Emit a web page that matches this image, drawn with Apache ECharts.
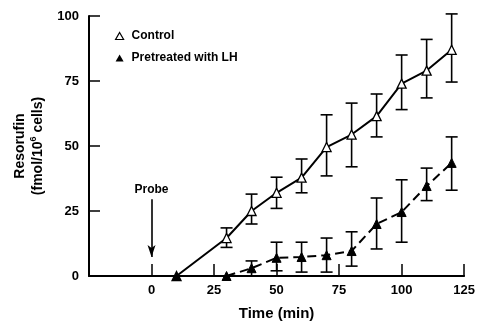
<!DOCTYPE html>
<html><head><meta charset="utf-8">
<script src="https://cdn.jsdelivr.net/npm/echarts@6/dist/echarts.min.js"></script>
<style>html,body{margin:0;padding:0;background:#fff}#c{width:478px;height:326px}</style>
</head><body><div id="c"></div>
<script>
const xTicks = [-25, 0, 25, 50, 75, 100, 125];
const yTicks = [0, 25, 50, 75, 100];
const controlX = [10, 30, 40, 50, 60, 70, 80, 90, 100, 110, 120];
const controlY = [0, 14.6, 25, 32, 37.8, 49.6, 54.4, 61.5, 74, 79, 87];
const controlLow = [null, 11, 20, 26, 32, 38.5, 42, 53.5, 64, 68.5, 74.6];
const controlHigh = [null, 18.5, 31.5, 38, 45, 62, 66.5, 70, 85, 91, 100.8];
const lhX = [30, 40, 50, 60, 70, 80, 90, 100, 110, 120];
const lhY = [0, 3, 7, 7.3, 8, 9.6, 20, 24.6, 34.6, 43.5];
const lhLow = [null, 0, 2, 1.5, 1.5, 3.8, 10.4, 13, 29, 33];
const lhHigh = [null, 5.8, 13, 13, 14.6, 17, 30, 37, 41.5, 53.5];
const probe = {x: 0, from: 29.5, to: 7.3, label: 'Probe'};

const FONT = 'Liberation Sans, Arial, sans-serif';
function errData(xs, lo, hi) {
  const out = [];
  xs.forEach((x, i) => { if (lo[i] != null) out.push([x, lo[i], hi[i]]); });
  return out;
}
function errRender(params, api) {
  const x = api.value(0);
  const p1 = api.coord([x, api.value(1)]);
  const p2 = api.coord([x, api.value(2)]);
  const w = 6;
  const st = {stroke: '#000', lineWidth: 1.6};
  return {type: 'group', children: [
    {type: 'line', shape: {x1: p1[0], y1: p1[1], x2: p2[0], y2: p2[1]}, style: st},
    {type: 'line', shape: {x1: p1[0]-w, y1: p1[1], x2: p1[0]+w, y2: p1[1]}, style: st},
    {type: 'line', shape: {x1: p2[0]-w, y1: p2[1], x2: p2[0]+w, y2: p2[1]}, style: st}
  ]};
}
const chart = echarts.init(document.getElementById('c'), null, {renderer: 'canvas'});
chart.setOption({
  animation: false,
  backgroundColor: '#fff',
  grid: {left: 89, right: 12, top: 16, bottom: 50},
  legend: {
    orient: 'vertical', left: 110, top: 25, itemGap: 10, itemWidth: 8, itemHeight: 7,
    textStyle: {fontFamily: FONT, fontSize: 12, color: '#000', fontWeight: 'bold', padding: [0, 0, 0, 3]},
    data: [
      {name: 'Control', icon: 'triangle', itemStyle: {color: '#fff', borderColor: '#000', borderWidth: 1.2}},
      {name: 'Pretreated with LH', icon: 'triangle', itemStyle: {color: '#000', borderColor: '#000'}}
    ]
  },
  xAxis: {
    type: 'value', min: xTicks[0], max: xTicks[xTicks.length-1], interval: 25,
    name: 'Time (min)', nameLocation: 'middle', nameGap: 30,
    nameTextStyle: {fontFamily: FONT, fontSize: 15, color: '#000', fontWeight: 'bold'},
    axisLine: {onZero: false, lineStyle: {color: '#000', width: 2}},
    axisTick: {inside: true, length: 12, lineStyle: {color: '#000', width: 1.5}},
    axisLabel: {fontFamily: FONT, fontSize: 13, color: '#000', fontWeight: 'bold', margin: 8,
      formatter: v => (v < 0 ? '' : String(v))},
    splitLine: {show: false}
  },
  yAxis: {
    type: 'value', min: yTicks[0], max: yTicks[yTicks.length-1], interval: 25,
    name: '{a|Resorufin}\n{a|(fmol/10}{s|6}{a| cells)}', nameLocation: 'middle', nameGap: 40, nameRotate: 90,
    nameTextStyle: {rich: {
      a: {fontFamily: FONT, fontSize: 14, color: '#000', fontWeight: 'bold', lineHeight: 18},
      s: {fontFamily: FONT, fontSize: 9, color: '#000', fontWeight: 'bold', verticalAlign: 'top', lineHeight: 18, padding: [0, 0, 8, 0]}
    }},
    axisLine: {show: true, onZero: false, lineStyle: {color: '#000', width: 2}},
    axisTick: {show: true, inside: true, length: 11, lineStyle: {color: '#000', width: 1.5}},
    axisLabel: {fontFamily: FONT, fontSize: 13, color: '#000', fontWeight: 'bold', margin: 10},
    splitLine: {show: false}
  },
  series: [
    {type: 'custom', name: 'errC', renderItem: errRender, data: errData(controlX, controlLow, controlHigh), z: 2, silent: true},
    {type: 'custom', name: 'errL', renderItem: errRender, data: errData(lhX, lhLow, lhHigh), z: 2, silent: true},
    {
      name: 'Control', type: 'line', z: 3,
      data: controlX.map((x, i) => i === 0 ? {value: [x, controlY[i]], itemStyle: {color: '#000'}} : [x, controlY[i]]),
      symbol: 'triangle', symbolSize: 9,
      itemStyle: {color: '#fff', borderColor: '#000', borderWidth: 1.3},
      lineStyle: {color: '#000', width: 2},
      markLine: {
        silent: true, symbol: ['none', 'arrow'], symbolSize: [6, 12],
        lineStyle: {color: '#000', width: 1.6, type: 'solid'},
        label: {show: true, position: 'start', formatter: probe.label, fontFamily: FONT, fontSize: 12, color: '#000', fontWeight: 'bold', distance: 4},
        data: [[{coord: [probe.x, probe.from]}, {coord: [probe.x, probe.to]}]]
      }
    },
    {
      name: 'Pretreated with LH', type: 'line', z: 3,
      data: lhX.map((x, i) => [x, lhY[i]]),
      symbol: 'triangle', symbolSize: 9,
      itemStyle: {color: '#000', borderColor: '#000'},
      lineStyle: {color: '#000', width: 2, type: [9, 5]}
    }
  ]
});
</script></body></html>
